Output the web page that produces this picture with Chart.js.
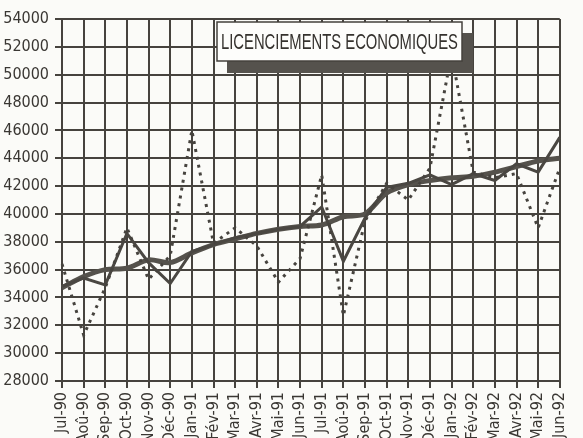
<!DOCTYPE html>
<html lang="fr">
<head>
  <meta charset="UTF-8" />
  <title>Licenciements économiques</title>
  <script src="https://cdn.jsdelivr.net/npm/chart.js"></script>
  <style>
    body {
      margin: 0;
      background: #fbfbf8;
      overflow: hidden;
    }
    canvas {
      display: block;
    }
  </style>
</head>
<body>
  <canvas id="chart" width="583" height="438"></canvas>

  <script>
    const months = ['Jul-90', 'Aoû-90', 'Sep-90', 'Oct-90', 'Nov-90', 'Déc-90',
      'Jan-91', 'Fév-91', 'Mar-91', 'Avr-91', 'Mai-91', 'Jun-91',
      'Jul-91', 'Aoû-91', 'Sep-91', 'Oct-91', 'Nov-91', 'Déc-91',
      'Jan-92', 'Fév-92', 'Mar-92', 'Avr-92', 'Mai-92', 'Jun-92'];

    // raw monthly figures (dotted)
    const brut = [36400, 31300, 34700, 39000, 35300, 37000, 46000, 37900, 39000, 37700, 35100, 36800,
      42800, 32700, 39500, 42200, 41000, 43300, 51500, 43000, 42600, 42900, 39000, 43300];
    // seasonally adjusted (thin solid)
    const cvs = [34800, 35400, 34900, 38600, 36500, 35000, 37300, 37800, 38300, 38600, 38900, 39100,
      40500, 36600, 39700, 41900, 42200, 42800, 42100, 42900, 42400, 43600, 43000, 45500];
    // trend (thick solid)
    const tendance = [34700, 35500, 36000, 36100, 36700, 36500, 37200, 37800, 38200, 38600, 38900, 39100,
      39200, 39800, 40000, 41500, 42100, 42400, 42600, 42700, 43000, 43400, 43800, 44000];

    const yMin = 28000, yMax = 54000, yStep = 2000;
    const titre = 'LICENCIEMENTS ECONOMIQUES';

    const ink = '#46433e';
    const tickFont = { family: "'DejaVu Sans Condensed', 'Liberation Sans', sans-serif", size: 16 };

    const titleBox = {
      id: 'titleBox',
      afterDraw(chart) {
        const ctx = chart.ctx;
        ctx.save();
        ctx.fillStyle = '#55524d';
        ctx.fillRect(227, 33, 246, 40);
        ctx.fillStyle = '#fdfdfb';
        ctx.fillRect(217, 22, 245, 39);
        ctx.strokeStyle = '#44413c';
        ctx.lineWidth = 1.5;
        ctx.strokeRect(217, 22, 245, 39);
        ctx.fillStyle = '#35322e';
        ctx.font = "22px 'Liberation Sans', sans-serif";
        ctx.textBaseline = 'alphabetic';
        ctx.fillText(titre, 221, 49, 237);
        ctx.restore();
      }
    };

    new Chart(document.getElementById('chart'), {
      type: 'line',
      data: {
        labels: months,
        datasets: [
          {
            label: 'Brut',
            data: brut,
            borderColor: ink,
            borderWidth: 3,
            borderDash: [3, 5],
            pointRadius: 0,
            fill: false
          },
          {
            label: 'CVS',
            data: cvs,
            borderColor: '#4a4742',
            borderWidth: 3,
            pointRadius: 0,
            fill: false
          },
          {
            label: 'Tendance',
            data: tendance,
            borderColor: '#55524c',
            borderWidth: 5,
            tension: 0.3,
            pointRadius: 0,
            fill: false
          }
        ]
      },
      options: {
        responsive: false,
        animation: false,
        layout: { padding: { top: 19, right: 8, left: 0, bottom: 0 } },
        plugins: {
          legend: { display: false },
          tooltip: { enabled: false }
        },
        scales: {
          x: {
            offset: false,
            grid: { color: ink, lineWidth: 2, tickLength: 7 },
            border: { color: ink, width: 2 },
            ticks: {
              autoSkip: false,
              minRotation: 90,
              maxRotation: 90,
              padding: 4,
              color: '#3a3733',
              font: tickFont
            },
            afterFit: s => { s.height = 57; }
          },
          y: {
            min: yMin,
            max: yMax,
            grid: { color: ink, lineWidth: 2, tickLength: 7 },
            border: { color: ink, width: 2 },
            ticks: {
              stepSize: yStep,
              padding: 6,
              color: '#3a3733',
              font: tickFont,
              callback: v => String(v)
            },
            afterFit: s => { s.width = 62; }
          }
        }
      },
      plugins: [titleBox]
    });
  </script>
</body>
</html>
